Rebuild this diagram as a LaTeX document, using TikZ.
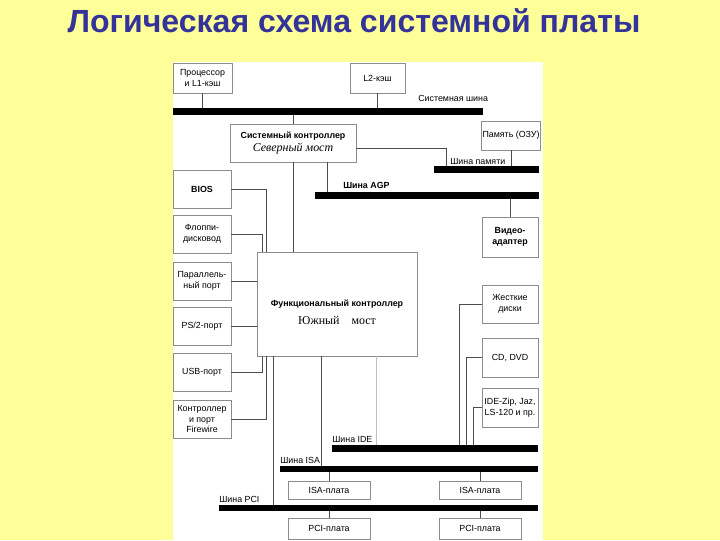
\documentclass[tikz,border=0pt]{standalone}
\usepackage{fontspec}
\setmainfont{Liberation Sans}
\newfontfamily\serifrm{Liberation Serif}
\usetikzlibrary{calc}
\definecolor{slidebg}{RGB}{255,255,153}
\definecolor{titleblue}{RGB}{51,51,153}

\begin{document}
\begin{tikzpicture}[
  x=0.025cm, y=-0.025cm, font=\fontsize{6.3}{7.8}\selectfont,
  box/.style 2 args={draw=black!45, line width=0.6pt, fill=white, align=center,
             inner sep=1pt, minimum width=#1*0.025cm, minimum height=#2*0.025cm},
  bus/.style={line width=4.3pt},
  wire/.style={black!70, line width=0.45pt},
  lbl/.style={anchor=base west, inner sep=0pt},
]
  \fill[slidebg] (0,0) rectangle (720,540);
  \fill[white] (173,62) rectangle (543,540);
  \node[anchor=base, text=titleblue, font=\bfseries\fontsize{22.8}{27}\selectfont] (title) at (354,32)
    {Логическая схема системной платы};

  % boxes
  \node[box={59}{30}] (cpu) at (202.5,78) {Процессор\\и L1-кэш};
  \node[box={55}{30}] (l2) at (377.5,78) {L2-кэш};
  \node[box={126}{38}] (nb) at (293,143)
    {\textbf{Системный контроллер}\\[2pt]{\serifrm\itshape\fontsize{8.5}{9}\selectfont Северный мост}};
  \node[box={58}{29}] (ram) at (511,135.5) {Память (ОЗУ)};
  \node[box={56}{40}] (video) at (510,237) {\textbf{Видео-}\\\textbf{адаптер}};

  \node[box={58}{38}] (bios) at (202,189) {\textbf{BIOS}};
  \node[box={58}{38}] (fdd) at (202,234) {Флоппи-\\дисковод};
  \node[box={58}{38}] (lpt) at (202,281) {Параллель-\\ный порт};
  \node[box={58}{38}] (ps2) at (202,326) {PS/2-порт};
  \node[box={58}{38}] (usb) at (202,372) {USB-порт};
  \node[box={58}{38}] (fw) at (202,419) {Контроллер\\и порт\\Firewire};

  \node[box={160}{104}] (sb) at (337,304) {};
  \node[anchor=north, align=center, inner sep=0pt] (sbtxt) at ($(sb.center)+(0,-4)$)
    {\textbf{Функциональный контроллер}\\[5pt]{\serifrm\fontsize{8.5}{9}\selectfont Южный\quad мост}};

  \node[box={56}{38}] (hdd) at (510,304) {Жесткие\\диски};
  \node[box={56}{39}] (cd) at (510,357.5) {CD, DVD};
  \node[box={56}{39}] (zip) at (510,407.5) {IDE-Zip, Jaz,\\LS-120 и пр.};

  \node[box={82}{18}] (isa1) at (329,490) {ISA-плата};
  \node[box={82}{18}] (isa2) at (480,490) {ISA-плата};
  \node[box={82}{21}] (pci1) at (329,528.5) {PCI-плата};
  \node[box={82}{21}] (pci2) at (480,528.5) {PCI-плата};

  % buses
  \coordinate (sysL) at (173,111.5);  \coordinate (sysR) at (483,111.5);
  \coordinate (memL) at (434,169.5);  \coordinate (memR) at (539,169.5);
  \coordinate (agpL) at (315,195.5);  \coordinate (agpR) at (539,195.5);
  \coordinate (ideL) at (332,448.5);  \coordinate (ideR) at (538,448.5);
  \coordinate (isaL) at (280,469);    \coordinate (isaR) at (538,469);
  \coordinate (pciL) at (219,508);    \coordinate (pciR) at (538,508);

  \coordinate (agpTap) at (327,195.5);
  \coordinate (memTap) at (446,169.5);
  \coordinate (pciTap) at (273,508);
  \coordinate (isaTap) at (321,469);
  \coordinate (ideTap) at (376,448.5);
  \coordinate (hddTap) at (459,448.5);
  \coordinate (cdTap) at (466,448.5);
  \coordinate (zipTap) at (473,448.5);

  % wires
  \draw[wire] (cpu.south) -- (cpu.south |- sysL);
  \draw[wire] (l2.south) -- (l2.south |- sysL);
  \draw[wire] (nb.north) -- (nb.north |- sysL);
  \draw[wire] (ram.south) -- (ram.south |- memL);
  \draw[wire] ($(nb.east)+(0,5)$) -| (memTap);
  \draw[wire] (nb.south -| agpTap) -- (agpTap);
  \draw[wire] (nb.south) -- (nb.south |- sb.north);
  \draw[wire] (video.north |- agpL) -- (video.north);

  \draw[wire] (bios.east) -| ($(sb.north west)+(10,0)$);
  \draw[wire] (fdd.east) -| ($(sb.north west)+(6,0)$);
  \draw[wire] (lpt.east) -- (lpt.east -| sb.west);
  \draw[wire] (ps2.east) -- (ps2.east -| sb.west);
  \draw[wire] (usb.east) -| ($(sb.south west)+(6,0)$);
  \draw[wire] (fw.east) -| ($(sb.south west)+(10,0)$);

  \draw[wire] (sb.south -| pciTap) -- (pciTap);
  \draw[wire] (sb.south -| isaTap) -- (isaTap);
  \draw[wire, black!25] (sb.south -| ideTap) -- (ideTap);

  \draw[wire] (hdd.west) -| (hddTap);
  \draw[wire] (cd.west) -| (cdTap);
  \draw[wire] (zip.west) -| (zipTap);

  \draw[wire] (isa1.north |- isaL) -- (isa1.north);
  \draw[wire] (isa2.north |- isaL) -- (isa2.north);
  \draw[wire] (pci1.north |- pciL) -- (pci1.north);
  \draw[wire] (pci2.north |- pciL) -- (pci2.north);

  \draw[bus, line width=5pt] (sysL) -- (sysR);
  \draw[bus] (memL) -- (memR);
  \draw[bus] (agpL) -- (agpR);
  \draw[bus] (ideL) -- (ideR);
  \draw[bus] (isaL) -- (isaR);
  \draw[bus] (pciL) -- (pciR);

  % bus labels
  \node[lbl] (sysname) at (418,101) {Системная шина};
  \node[lbl] (memname) at (450,164) {Шина памяти};
  \node[lbl] (agpname) at (343,188) {\textbf{Шина AGP}};
  \node[lbl] (idename) at (332,442) {Шина IDE};
  \node[lbl] (isaname) at (280,463) {Шина ISA};
  \node[lbl] (pciname) at (219,502) {Шина PCI};
\end{tikzpicture}
\end{document}
